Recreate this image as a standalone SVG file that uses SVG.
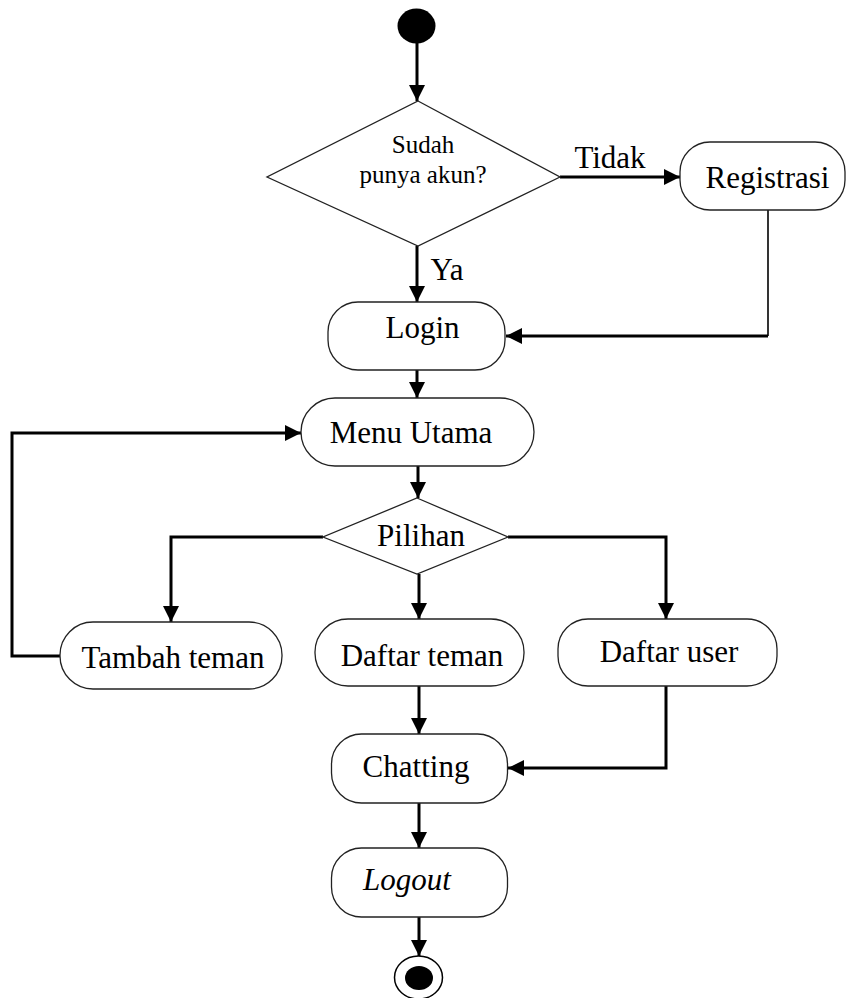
<svg xmlns="http://www.w3.org/2000/svg" width="848" height="998" viewBox="0 0 848 998">
  <style>
    .node { fill: #ffffff; stroke: #222222; stroke-width: 1.3; }
    .lbl { font-family: "Liberation Serif", "Times New Roman", serif; font-size: 31px; fill: #000000; text-anchor: middle; }
    .small { font-size: 25px; }
    .edge { fill: none; stroke: #000000; stroke-width: 3; }
    .thin { fill: none; stroke: #000000; stroke-width: 1.6; }
  </style>
  <defs>
    <marker id="arrow" markerUnits="userSpaceOnUse" markerWidth="16" markerHeight="16" refX="16" refY="8" orient="auto">
      <path d="M0,0 L16,8 L0,16 z" fill="#000000"/>
    </marker>
  </defs>

  <rect width="848" height="998" fill="#ffffff"/>

  <!-- connectors -->
  <g id="connectors">
    <path class="edge" d="M417,43 V101" marker-end="url(#arrow)"/>
    <path class="edge" d="M560,177 H680" marker-end="url(#arrow)"/>
    <path class="edge" d="M417,246 V302" marker-end="url(#arrow)"/>
    <path class="thin" d="M768,210 V336"/>
    <path class="edge" d="M768,336 H506" marker-end="url(#arrow)"/>
    <path class="edge" d="M417,370 V398" marker-end="url(#arrow)"/>
    <path class="edge" d="M418,466 V498" marker-end="url(#arrow)"/>
    <path class="edge" d="M323,537 H171 V622" marker-end="url(#arrow)"/>
    <path class="edge" d="M419,574 V619" marker-end="url(#arrow)"/>
    <path class="edge" d="M508,537 H666 V619" marker-end="url(#arrow)"/>
    <path class="edge" d="M60,656 H12 V433 H301" marker-end="url(#arrow)"/>
    <path class="edge" d="M419,686 V734" marker-end="url(#arrow)"/>
    <path class="edge" d="M666,686 V768 H508" marker-end="url(#arrow)"/>
    <path class="edge" d="M419,803 V848" marker-end="url(#arrow)"/>
    <path class="edge" d="M419,917 V956" marker-end="url(#arrow)"/>
    <text class="lbl" x="610" y="168">Tidak</text>
    <text class="lbl" x="447" y="280" font-size="30">Ya</text>
  </g>

  <!-- start -->
  <g id="start">
    <ellipse cx="416.5" cy="26" rx="19" ry="17.5" fill="#000000"/>
  </g>

  <g id="decision-akun">
    <polygon class="node" points="418,101 560,177 418,246 267,177"/>
    <text class="lbl small" x="423" y="153">Sudah</text>
    <text class="lbl small" x="423" y="183">punya akun?</text>
  </g>

  <g id="registrasi">
    <rect class="node" x="680" y="142" width="165" height="68" rx="30"/>
    <text class="lbl" x="767.5" y="188">Registrasi</text>
  </g>

  <g id="login">
    <rect class="node" x="328" y="302" width="177" height="68" rx="30"/>
    <text class="lbl" x="422.5" y="338">Login</text>
  </g>

  <g id="menu-utama">
    <rect class="node" x="301" y="398" width="233" height="68" rx="34"/>
    <text class="lbl" x="411" y="443">Menu Utama</text>
  </g>

  <g id="pilihan">
    <polygon class="node" points="417,498 508,537 417,574 323,537"/>
    <text class="lbl" x="421" y="546">Pilihan</text>
  </g>

  <g id="tambah-teman">
    <rect class="node" x="60" y="622" width="222" height="67" rx="33"/>
    <text class="lbl" x="173" y="668">Tambah teman</text>
  </g>

  <g id="daftar-teman">
    <rect class="node" x="315" y="619" width="209" height="67" rx="33"/>
    <text class="lbl" x="422" y="666">Daftar teman</text>
  </g>

  <g id="daftar-user">
    <rect class="node" x="558" y="619" width="219" height="67" rx="30"/>
    <text class="lbl" x="669" y="662">Daftar user</text>
  </g>

  <g id="chatting">
    <rect class="node" x="331.5" y="734" width="176" height="69" rx="30"/>
    <text class="lbl" x="416" y="777">Chatting</text>
  </g>

  <g id="logout">
    <rect class="node" x="331.5" y="848" width="176" height="69" rx="30"/>
    <text class="lbl" x="407" y="890" font-style="italic">Logout</text>
  </g>

  <!-- end -->
  <g id="end">
    <ellipse cx="418.5" cy="977.5" rx="24" ry="21.5" fill="#ffffff" stroke="#000000" stroke-width="1.5"/>
    <ellipse cx="419" cy="978" rx="14" ry="12" fill="#000000"/>
  </g>
</svg>
